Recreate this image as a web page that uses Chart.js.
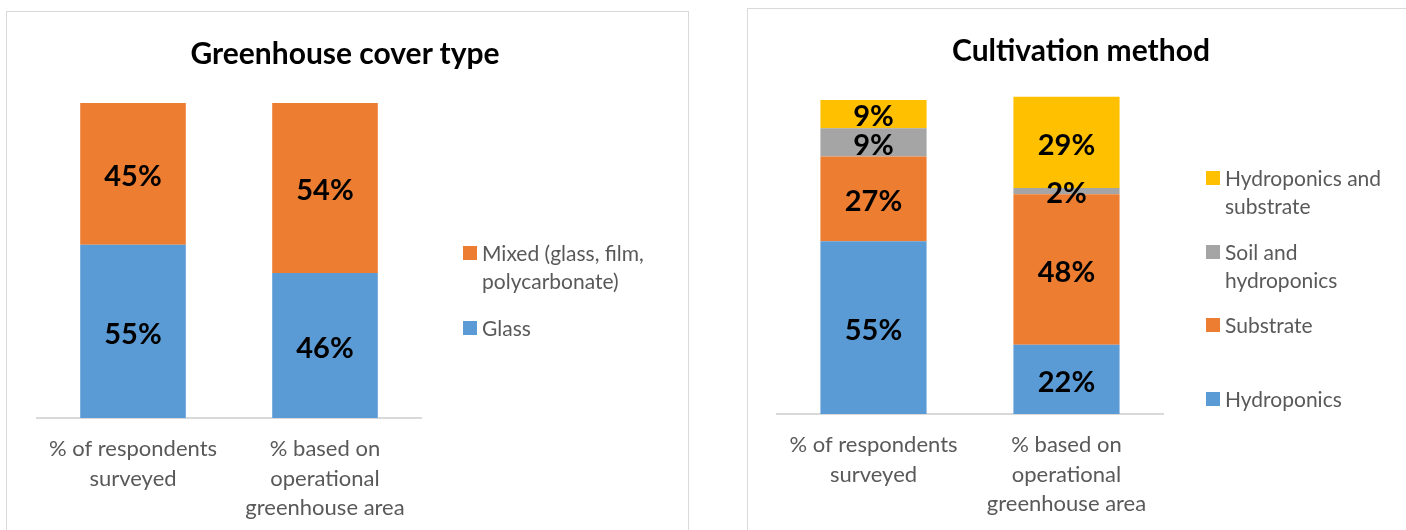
<!DOCTYPE html>
<html>
<head>
<meta charset="utf-8">
<script src="https://cdn.jsdelivr.net/npm/chart.js@4.4.1/dist/chart.umd.min.js"></script>
<style>
  html, body { margin: 0; padding: 0; background: #fff; }
  body { width: 1406px; height: 530px; position: relative; overflow: hidden; font-family: Lato, "Open Sans", sans-serif; }
  .panel { position: absolute; border: 1px solid #d9d9d9; box-sizing: border-box; }
  .wrap { position: absolute; }
  .title { position: absolute; transform: translate(-50%, -50%); font-weight: 700; font-size: 30px; color: #000; white-space: nowrap; }
  .legend { position: absolute; left: 0; top: 0; width: 1406px; height: 530px; }
  .legend-item { position: absolute; display: flex; align-items: flex-start; color: #595959; font-size: 21px; line-height: 28px; }
  .legend-item .box { width: 14px; height: 14px; margin-top: 7px; margin-right: 5px; flex: none; }
</style>
</head>
<body>
<div class="panel" style="left:6px; top:11px; width:683px; height:540px;"></div>
<div class="panel" style="left:747px; top:8px; width:680px; height:540px;"></div>

<div class="wrap" style="left:0; top:0; width:700px; height:549px;"><canvas id="coverChart"></canvas></div>
<div class="wrap" style="left:720px; top:0; width:686px; height:548px;"><canvas id="methodChart"></canvas></div>

<div class="title" style="left:345px; top:52px;">Greenhouse cover type</div>
<div class="title" style="left:1081px; top:49px;">Cultivation method</div>

<div id="coverLegend" class="legend"></div>
<div id="methodLegend" class="legend"></div>

<script>
// categories (x axis, split into lines)
const categories = [
    ['% of respondents', 'surveyed'],
    ['% based on', 'operational', 'greenhouse area']
];

// cover type
const coverLabels = ['Glass', 'Mixed (glass, film, polycarbonate)'];
const glassPct = [55, 46];
const mixedPct = [45, 54];

// cultivation method
const methodLabels = ['Hydroponics', 'Substrate', 'Soil and hydroponics', 'Hydroponics and substrate'];
const hydroponicsPct = [55, 22];
const substratePct = [27, 48];
const soilHydroPct = [9, 2];
const hydroSubstratePct = [9, 29];

const BLUE = '#5b9bd5';
const ORANGE = '#ed7d31';
const GREY = '#a5a5a5';
const YELLOW = '#ffc000';

// percent labels centred in each bar segment
const segmentLabels = {
    id: 'segmentLabels',
    afterDatasetsDraw(chart) {
        const ctx = chart.ctx;
        ctx.save();
        ctx.font = 'bold 29px Lato, sans-serif';
        ctx.fillStyle = '#000';
        ctx.textAlign = 'center';
        ctx.textBaseline = 'middle';
        chart.data.datasets.forEach((ds, i) => {
            const meta = chart.getDatasetMeta(i);
            meta.data.forEach((bar, j) => {
                const { x, y, base } = bar.getProps(['x', 'y', 'base'], true);
                ctx.fillText(ds.data[j] + '%', x, (y + base) / 2 + 3);
            });
        });
        ctx.restore();
    }
};

function makeChart(id, datasets, padding) {
    return new Chart(document.getElementById(id), {
        type: 'bar',
        data: { labels: categories, datasets },
        options: {
            responsive: true,
            maintainAspectRatio: false,
            animation: false,
            layout: { padding },
            plugins: {
                legend: { display: false },
                title: { display: false },
                tooltip: { enabled: false }
            },
            scales: {
                x: {
                    stacked: true,
                    grid: { display: false, drawTicks: false },
                    border: { color: '#d9d9d9', width: 2 },
                    ticks: {
                        color: '#595959',
                        padding: 17,
                        maxRotation: 0,
                        autoSkip: false,
                        font: { family: 'Lato, sans-serif', size: 22, lineHeight: 1.32 }
                    }
                },
                y: { stacked: true, display: false, min: 0, max: 100 }
            }
        },
        plugins: [segmentLabels]
    });
}

function bar(label, data, color) {
    return { label, data, backgroundColor: color, barPercentage: 0.55, categoryPercentage: 1, clip: false };
}

const coverChart = makeChart('coverChart', [
    bar(coverLabels[0], glassPct, BLUE),
    bar(coverLabels[1], mixedPct, ORANGE)
], { left: 37, right: 279, top: 103, bottom: 10 });

const methodChart = makeChart('methodChart', [
    bar(methodLabels[0], hydroponicsPct, BLUE),
    bar(methodLabels[1], substratePct, ORANGE),
    bar(methodLabels[2], soilHydroPct, GREY),
    bar(methodLabels[3], hydroSubstratePct, YELLOW)
], { left: 57, right: 243, top: 100, bottom: 13 });

// legend, top item is the last dataset
function buildLegend(chart, el, x, firstY, step, textWidth) {
    const items = chart.data.datasets.slice().reverse();
    items.forEach((ds, k) => {
        const item = document.createElement('div');
        item.className = 'legend-item';
        item.style.left = x + 'px';
        item.style.top = (firstY + k * step - 14) + 'px';
        item.style.width = (textWidth + 19) + 'px';
        item.innerHTML = '<span class="box" style="background:' + ds.backgroundColor + '"></span>' +
            '<span>' + ds.label + '</span>';
        el.appendChild(item);
    });
}
buildLegend(coverChart, document.getElementById('coverLegend'), 463, 253, 75, 200);
buildLegend(methodChart, document.getElementById('methodLegend'), 1206, 178, 73.7, 180);
</script>
</body>
</html>
